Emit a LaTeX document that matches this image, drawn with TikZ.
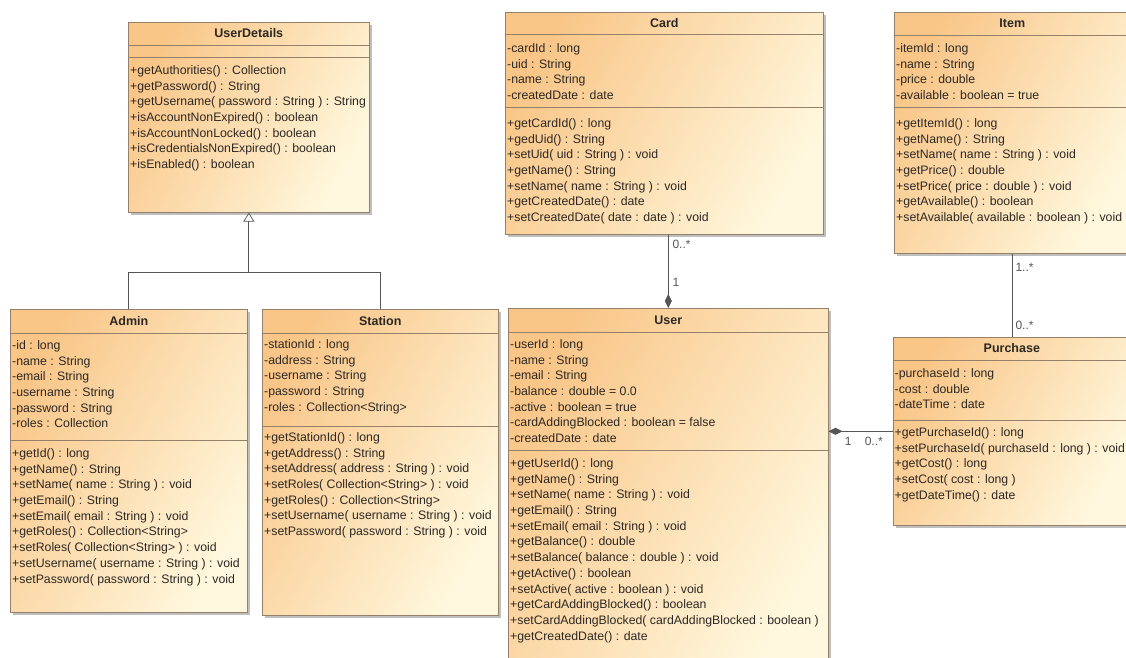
\documentclass[tikz,border=0pt]{standalone}
\usepackage{fontspec}
\setmainfont{Liberation Sans}
\usetikzlibrary{calc,shadows,arrows.meta}
\definecolor{umlorange}{RGB}{249,198,136}
\definecolor{umlcream}{RGB}{255,248,222}
\definecolor{umlline}{RGB}{150,128,105}
\definecolor{umlink}{RGB}{45,40,35}
\definecolor{wire}{RGB}{85,85,85}

\begin{document}
\begin{tikzpicture}[
    x=1pt, y=-1pt,
    font=\fontsize{12.3}{15.7}\selectfont,
    classbox/.style={anchor=north west, draw=umlline, line width=.6pt,
        inner sep=0pt, top color=umlorange, bottom color=umlcream,
        shading angle=60,
        drop shadow={shadow xshift=2.5pt, shadow yshift=-2.5pt,
            opacity=.5}},
    classname/.style={font=\fontsize{12.5}{15.7}\selectfont\bfseries,
        text=umlink, inner sep=0pt},
    members/.style={anchor=north west, align=left, inner sep=0pt,
        text=umlink},
    divider/.style={draw=umlline, line width=.6pt},
    wire/.style={draw=wire, line width=.7pt},
    multiplicity/.style={font=\fontsize{12}{14}\selectfont, text=wire,
        inner sep=0pt, anchor=west},
]
    \useasboundingbox (0, 0) rectangle (1126, 657);

    %% UserDetails, the interface on top
    \node[classbox, minimum width=241, minimum height=190] (userdetails)
        at (128, 22) {};
    \node[classname] (userdetails-name) at ($(userdetails.north)+(0,11.5)$)
        {UserDetails};
    \draw[divider] (userdetails.west |- 0,45) -- (userdetails.east |- 0,45);
    \draw[divider] (userdetails.west |- 0,57) -- (userdetails.east |- 0,57);
    \node[members] (userdetails-ops) at (130, 65.3) {%
        +getAuthorities() : Collection\\
        +getPassword() : String\\
        +getUsername( password : String ) : String\\
        +isAccountNonExpired() : boolean\\
        +isAccountNonLocked() : boolean\\
        +isCredentialsNonExpired() : boolean\\
        +isEnabled() : boolean};

    %% Admin
    \node[classbox, minimum width=237, minimum height=303] (admin)
        at (10, 309) {};
    \node[classname] (admin-name) at ($(admin.north)+(0,12)$) {Admin};
    \draw[divider] (admin.west |- 0,333) -- (admin.east |- 0,333);
    \draw[divider] (admin.west |- 0,440) -- (admin.east |- 0,440);
    \node[members] (admin-attrs) at (12, 340.3) {%
        -id : long\\
        -name : String\\
        -email : String\\
        -username : String\\
        -password : String\\
        -roles : Collection};
    \node[members] (admin-ops) at (12, 448.3) {%
        +getId() : long\\
        +getName() : String\\
        +setName( name : String ) : void\\
        +getEmail() : String\\
        +setEmail( email : String ) : void\\
        +getRoles() : Collection<String>\\
        +setRoles( Collection<String> ) : void\\
        +setUsername( username : String ) : void\\
        +setPassword( password : String ) : void};

    %% Station
    \node[classbox, minimum width=236, minimum height=306] (station)
        at (262, 309) {};
    \node[classname] (station-name) at ($(station.north)+(0,12)$) {Station};
    \draw[divider] (station.west |- 0,333) -- (station.east |- 0,333);
    \draw[divider] (station.west |- 0,426) -- (station.east |- 0,426);
    \node[members] (station-attrs) at (264, 339.3) {%
        -stationId : long\\
        -address : String\\
        -username : String\\
        -password : String\\
        -roles : Collection<String>};
    \node[members] (station-ops) at (264, 432.3) {%
        +getStationId() : long\\
        +getAddress() : String\\
        +setAddress( address : String ) : void\\
        +setRoles( Collection<String> ) : void\\
        +getRoles() : Collection<String>\\
        +setUsername( username : String ) : void\\
        +setPassword( password : String ) : void};

    %% Card
    \node[classbox, minimum width=318, minimum height=222] (card)
        at (505, 12) {};
    \node[classname] (card-name) at ($(card.north)+(0,11)$) {Card};
    \draw[divider] (card.west |- 0,34) -- (card.east |- 0,34);
    \draw[divider] (card.west |- 0,107) -- (card.east |- 0,107);
    \node[members] (card-attrs) at (507, 43.3) {%
        -cardId : long\\
        -uid : String\\
        -name : String\\
        -createdDate : date};
    \node[members] (card-ops) at (507, 118.3) {%
        +getCardId() : long\\
        +gedUid() : String\\
        +setUid( uid : String ) : void\\
        +getName() : String\\
        +setName( name : String ) : void\\
        +getCreatedDate() : date\\
        +setCreatedDate( date : date ) : void};

    %% Item, runs off the right edge
    \node[classbox, minimum width=236, minimum height=241] (item)
        at (894, 12) {};
    \node[classname] (item-name) at ($(item.north)+(0,11.5)$) {Item};
    \draw[divider] (item.west |- 0,35) -- (item.east |- 0,35);
    \draw[divider] (item.west |- 0,107) -- (item.east |- 0,107);
    \node[members] (item-attrs) at (896, 43.3) {%
        -itemId : long\\
        -name : String\\
        -price : double\\
        -available : boolean = true};
    \node[members] (item-ops) at (896, 118.3) {%
        +getItemId() : long\\
        +getName() : String\\
        +setName( name : String ) : void\\
        +getPrice() : double\\
        +setPrice( price : double ) : void\\
        +getAvailable() : boolean\\
        +setAvailable( available : boolean ) : void};

    %% User, runs off the bottom edge
    \node[classbox, minimum width=320, minimum height=360] (user)
        at (508, 308) {};
    \node[classname] (user-name) at ($(user.north)+(0,12)$) {User};
    \draw[divider] (user.west |- 0,332) -- (user.east |- 0,332);
    \draw[divider] (user.west |- 0,450) -- (user.east |- 0,450);
    \node[members] (user-attrs) at (510, 339.3) {%
        -userId : long\\
        -name : String\\
        -email : String\\
        -balance : double = 0.0\\
        -active : boolean = true\\
        -cardAddingBlocked : boolean = false\\
        -createdDate : date};
    \node[members] (user-ops) at (510, 458.3) {%
        +getUserId() : long\\
        +getName() : String\\
        +setName( name : String ) : void\\
        +getEmail() : String\\
        +setEmail( email : String ) : void\\
        +getBalance() : double\\
        +setBalance( balance : double ) : void\\
        +getActive() : boolean\\
        +setActive( active : boolean ) : void\\
        +getCardAddingBlocked() : boolean\\
        +setCardAddingBlocked( cardAddingBlocked : boolean )\\
        +getCreatedDate() : date};

    %% Purchase
    \node[classbox, minimum width=237, minimum height=188] (purchase)
        at (893, 337) {};
    \node[classname] (purchase-name) at ($(purchase.north)+(0,11.5)$)
        {Purchase};
    \draw[divider] (purchase.west |- 0,360) -- (purchase.east |- 0,360);
    \draw[divider] (purchase.west |- 0,420) -- (purchase.east |- 0,420);
    \node[members] (purchase-attrs) at (894.5, 368.3) {%
        -purchaseId : long\\
        -cost : double\\
        -dateTime : date};
    \node[members] (purchase-ops) at (894.5, 427.3) {%
        +getPurchaseId() : long\\
        +setPurchaseId( purchaseId : long ) : void\\
        +getCost() : long\\
        +setCost( cost : long )\\
        +getDateTime() : date};

    %% generalization: Admin and Station realise UserDetails
    \coordinate (fork) at ($(userdetails.south)+(0,60)$);
    \draw[wire] (admin.north) |- (fork) -| (station.north);
    \draw[wire, -{Triangle[open, length=9pt, width=11pt]}] (fork)
        -- (userdetails.south);

    %% Card -- User, composition
    \draw[wire, -{Diamond[length=14pt, width=7pt]}] (card.south -| user.north)
        -- (user.north);
    \node[multiplicity] (card-mult) at ($(card.south -| user.north)+(4,10)$)
        {0..*};
    \node[multiplicity] (user-mult-card) at ($(user.north)+(4,-26)$) {1};

    %% Item -- Purchase
    \draw[wire] (item.south) -- (item.south |- purchase.north);
    \node[multiplicity] (item-mult) at ($(item.south)+(3,14)$) {1..*};
    \node[multiplicity] (purchase-mult-item)
        at ($(item.south |- purchase.north)+(3,-12)$) {0..*};

    %% User -- Purchase, composition
    \draw[wire, -{Diamond[length=14pt, width=7pt]}] (purchase.west)
        -- (purchase.west -| user.east);
    \node[multiplicity] (user-mult-purchase)
        at ($(purchase.west -| user.east)+(16,10)$) {1};
    \node[multiplicity] (purchase-mult-user)
        at ($(purchase.west -| user.east)+(36,10)$) {0..*};
\end{tikzpicture}
\end{document}
